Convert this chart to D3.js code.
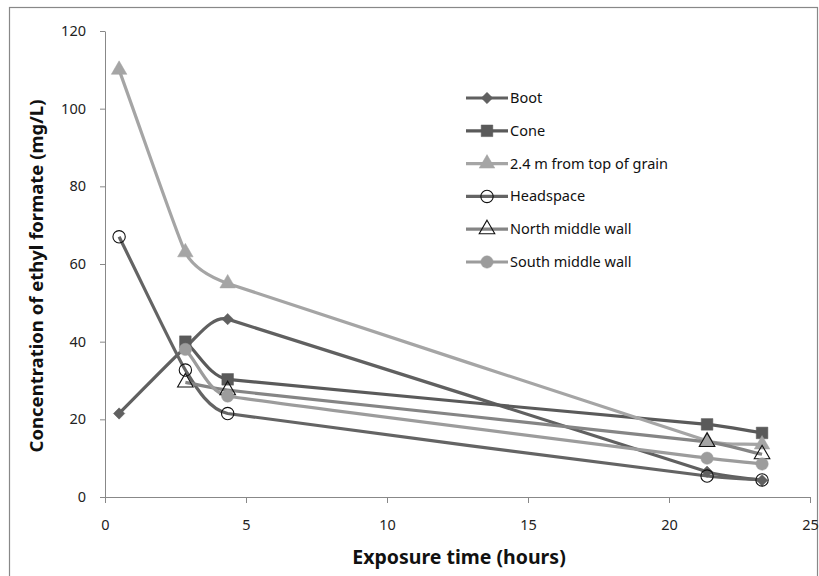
<!DOCTYPE html>
<html><head><meta charset="utf-8">
<script src="https://cdn.jsdelivr.net/npm/d3@7/dist/d3.min.js"></script>
<style>body{margin:0;background:#fff}svg{display:block}</style>
</head><body>
<svg id="c" width="819" height="576"></svg>
<script>
const xTicks = [0, 5, 10, 15, 20, 25];
const yTicks = [0, 20, 40, 60, 80, 100, 120];
const seriesNames = ["Boot", "Cone", "2.4 m from top of grain", "Headspace", "North middle wall", "South middle wall"];
const bootX = [0.5, 2.85, 4.35, 21.35, 23.3];
const bootY = [21.5, 38.5, 45.8, 6.5, 4.3];
const coneX = [2.85, 4.35, 21.35, 23.3];
const coneY = [40, 30.3, 18.7, 16.5];
const grainX = [0.5, 2.85, 4.35, 21.35, 23.3];
const grainY = [110, 63, 55, 14.5, 13.5];
const headX = [0.5, 2.85, 4.35, 21.35, 23.3];
const headY = [67, 32.7, 21.5, 5.4, 4.4];
const northX = [2.85, 4.35, 21.35, 23.3];
const northY = [29.5, 27.5, 14.2, 11];
const southX = [2.85, 4.35, 21.35, 23.3];
const southY = [38, 26, 10, 8.5];

// Smoothed curve similar to spreadsheet "smoothed line": tangent along the neighbour chord,
// handle length limited by the shorter adjacent segment so long spans stay almost straight.
function curveSmooth(context) {
  let pts;
  return {
    areaStart() {}, areaEnd() {},
    lineStart() { pts = []; },
    point(px, py) { pts.push([+px, +py]); },
    lineEnd() {
      const n = pts.length;
      if (!n) return;
      context.moveTo(pts[0][0], pts[0][1]);
      if (n < 3) { for (let i = 1; i < n; i++) context.lineTo(pts[i][0], pts[i][1]); return; }
      const seg = [];
      for (let i = 0; i < n - 1; i++) seg.push(Math.hypot(pts[i + 1][0] - pts[i][0], pts[i + 1][1] - pts[i][1]));
      const T = pts.map((p, i) => {
        const a = pts[Math.max(i - 1, 0)], b = pts[Math.min(i + 1, n - 1)];
        const dx = b[0] - a[0], dy = b[1] - a[1], l = Math.hypot(dx, dy) || 1;
        return [dx / l, dy / l];
      });
      const k = 0.32;
      for (let i = 0; i < n - 1; i++) {
        const a = pts[i], b = pts[i + 1], L = seg[i];
        const ha = k * (i > 0 ? Math.min(L, seg[i - 1]) : L);
        const hb = k * (i + 1 < n - 1 ? Math.min(L, seg[i + 1]) : L);
        context.bezierCurveTo(a[0] + T[i][0] * ha, a[1] + T[i][1] * ha,
                              b[0] - T[i + 1][0] * hb, b[1] - T[i + 1][1] * hb, b[0], b[1]);
      }
    }
  };
}

const svg = d3.select("#c");
const font = "'Noto Sans', 'DejaVu Sans', sans-serif";
svg.append("rect").attr("x", 9.5).attr("y", 7.5).attr("width", 808).attr("height", 580)
  .attr("fill", "none").attr("stroke", "#888").attr("stroke-width", 1.2);

const x = d3.scaleLinear().domain([0, 25]).range([105, 810]);
const y = d3.scaleLinear().domain([0, 120]).range([497, 31]);

const xa = svg.append("g").attr("transform", "translate(0,497)")
  .call(d3.axisBottom(x).tickValues(xTicks).tickSize(6).tickPadding(17).tickSizeOuter(0));
const ya = svg.append("g").attr("transform", "translate(105,0)")
  .call(d3.axisLeft(y).tickValues(yTicks).tickSize(5).tickPadding(14).tickSizeOuter(0));
[xa, ya].forEach(a => {
  a.select(".domain").attr("stroke", "#888");
  a.selectAll(".tick line").attr("stroke", "#888");
  a.selectAll(".tick text").attr("fill", "#222").style("font-family", font).style("font-size", "14.5px");
});

svg.append("text").attr("x", 459).attr("y", 564).attr("text-anchor", "middle")
  .style("font-family", font).style("font-size", "19.5px").style("font-weight", "bold").attr("fill", "#111")
  .text("Exposure time (hours)");
svg.append("text").attr("transform", "translate(43,276) rotate(-90)").attr("text-anchor", "middle")
  .style("font-family", font).style("font-size", "18.5px").style("font-weight", "bold").attr("fill", "#111")
  .text("Concentration of ethyl formate (mg/L)");

const series = [
  {name: seriesNames[0], xs: bootX, ys: bootY, color: "#606060", marker: "diamond", fill: "#606060", mstroke: "#606060"},
  {name: seriesNames[1], xs: coneX, ys: coneY, color: "#5a5a5a", marker: "square", fill: "#5a5a5a", mstroke: "#5a5a5a"},
  {name: seriesNames[2], xs: grainX, ys: grainY, color: "#a5a5a5", marker: "triangle", fill: "#a5a5a5", mstroke: "#a5a5a5"},
  {name: seriesNames[3], xs: headX, ys: headY, color: "#646464", marker: "circle", fill: "none", mstroke: "#111"},
  {name: seriesNames[4], xs: northX, ys: northY, color: "#858585", marker: "triangle", fill: "none", mstroke: "#111"},
  {name: seriesNames[5], xs: southX, ys: southY, color: "#9c9c9c", marker: "circle", fill: "#9c9c9c", mstroke: "#9c9c9c"}
];
const symType = {diamond: d3.symbolSquare, square: d3.symbolSquare, triangle: d3.symbolTriangle, circle: d3.symbolCircle};
const symSize = {diamond: 64, square: 135, triangle: 105, circle: 120};
const rot = m => m === "diamond" ? " rotate(45)" : "";

const line = d3.line().curve(curveSmooth).x(d => x(d[0])).y(d => y(d[1]));
series.forEach(s => {
  const pts = s.xs.map((v, i) => [v, s.ys[i]]);
  svg.append("path").attr("d", line(pts)).attr("fill", "none").attr("stroke", s.color).attr("stroke-width", 3.2);
});
series.forEach(s => {
  const pts = s.xs.map((v, i) => [v, s.ys[i]]);
  svg.selectAll(null).data(pts).enter().append("path")
    .attr("d", d3.symbol().type(symType[s.marker]).size(symSize[s.marker]))
    .attr("transform", d => `translate(${x(d[0])},${y(d[1])})${rot(s.marker)}`)
    .attr("fill", s.fill).attr("stroke", s.mstroke).attr("stroke-width", s.fill === "none" ? 1.1 : 0.5);
});

// legend
const lg = svg.append("g");
series.forEach((s, i) => {
  const yy = 98 + i * 32.8;
  lg.append("line").attr("x1", 466).attr("x2", 508).attr("y1", yy).attr("y2", yy).attr("stroke", s.color).attr("stroke-width", 3.2);
  lg.append("path").attr("d", d3.symbol().type(symType[s.marker]).size(symSize[s.marker]))
    .attr("transform", `translate(487,${yy})${rot(s.marker)}`).attr("fill", s.fill).attr("stroke", s.mstroke).attr("stroke-width", s.fill === "none" ? 1.1 : 0.5);
  lg.append("text").attr("x", 510).attr("y", yy + 5).style("font-family", font).style("font-size", "14.5px").attr("fill", "#111").text(s.name);
});
</script>
</body></html>
